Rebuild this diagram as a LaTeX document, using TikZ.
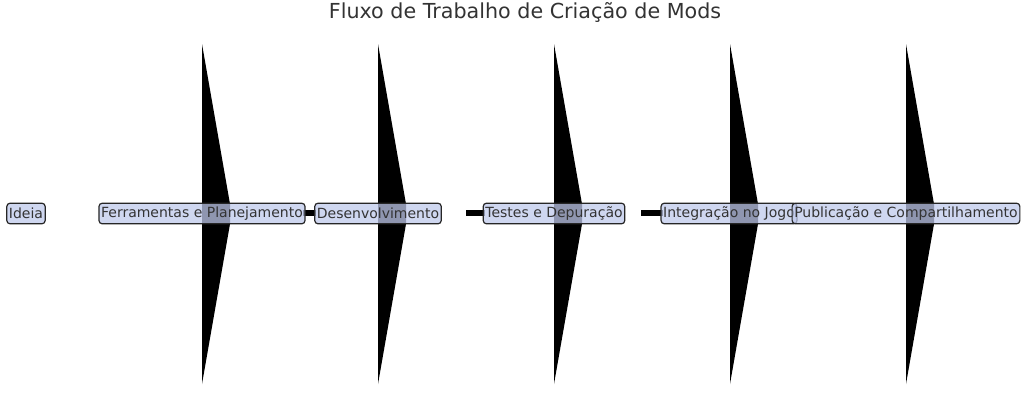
\documentclass[tikz,border=0pt]{standalone}
\usepackage{fontspec}
\setmainfont{DejaVu Sans}
\begin{document}
\begin{tikzpicture}[x=0.75pt,y=-0.75pt,
  box/.style={draw=black!85,line width=0.9pt,rounded corners=2.5pt,fill=cyan!40!blue!25!white,fill opacity=0.75,text opacity=1,font=\fontsize{10.5}{12}\selectfont,text=black!80,inner sep=1.6pt,minimum height=15.5pt},
  shaft/.style={line width=3.8pt}]
\useasboundingbox (0,0) rectangle (1024,404);
\node[font=\fontsize{15.5}{18}\selectfont,text=black!80] (title) at (525,12) {Fluxo de Trabalho de Criação de Mods};
\foreach \x/\n in {202/a,378/b,554/c,730/d,906/e}{
  \fill (\x,44) coordinate (top\n) -- (\x+28,204) -- (\x+28,224) -- (\x,384) -- cycle;
}
\coordinate (s1) at (303,213); \coordinate (e1) at (316,213);
\coordinate (s2) at (466,213); \coordinate (e2) at (485,213);
\coordinate (s3) at (641,213); \coordinate (e3) at (663,213);
\draw[shaft] (s1) -- (e1);
\draw[shaft] (s2) -- (e2);
\draw[shaft] (s3) -- (e3);
\node[box] (n0) at (26,213.5) {Ideia};
\node[box] (n1) at (202,213.5) {Ferramentas e Planejamento};
\node[box] (n2) at (378,213.5) {Desenvolvimento};
\node[box] (n3) at (554,213.5) {Testes e Depuração};
\node[box] (n4) at (729,213.5) {Integração no Jogo};
\node[box] (n5) at (906,213.5) {Publicação e Compartilhamento};
\end{tikzpicture}
\end{document}
